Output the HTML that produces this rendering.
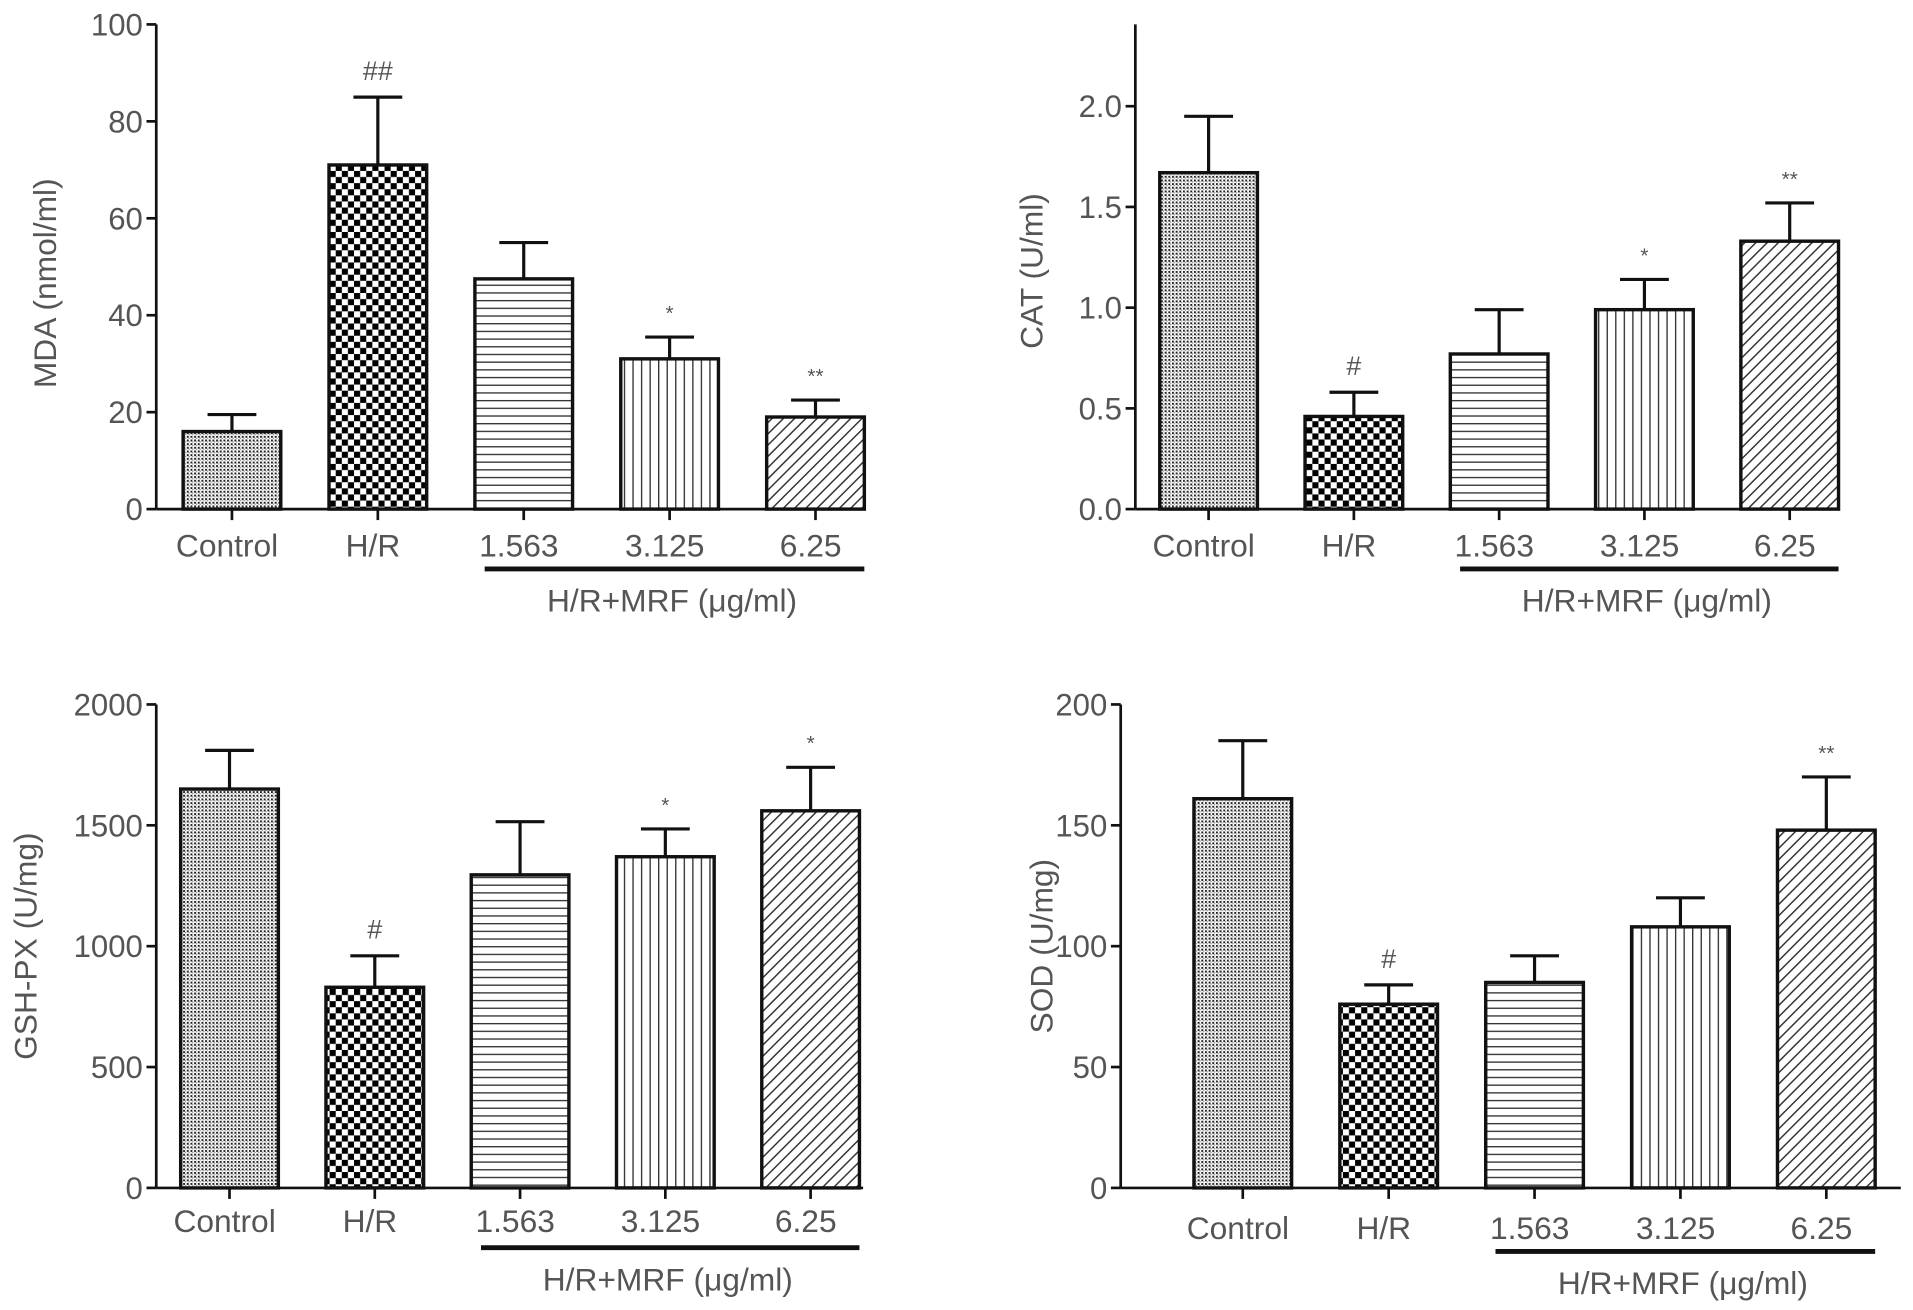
<!DOCTYPE html>
<html><head><meta charset="utf-8"><style>
html,body{margin:0;padding:0;background:#fff;}
svg{display:block;}
text{font-family:"Liberation Sans",sans-serif;fill:#555;}
</style></head><body>
<svg id="fig" width="1913" height="1310" viewBox="0 0 1567 1073" preserveAspectRatio="none" xmlns="http://www.w3.org/2000/svg">
<defs>
<pattern id="pDots" width="3" height="3" patternUnits="userSpaceOnUse"><rect width="3" height="3" fill="#fff"/><rect width="1.6" height="1.6" fill="#222"/><rect x="1.5" y="1.5" width="1" height="1" fill="#888"/></pattern>
<pattern id="pCheck" width="10" height="10" patternUnits="userSpaceOnUse"><rect width="10" height="10" fill="#fff"/><rect width="5" height="5" fill="#000"/><rect x="5" y="5" width="5" height="5" fill="#000"/></pattern>
<pattern id="pH" width="8" height="6.3" patternUnits="userSpaceOnUse"><rect width="8" height="6.3" fill="#fff"/><rect y="0" width="8" height="1.1" fill="#333"/></pattern>
<pattern id="pV" width="7" height="8" patternUnits="userSpaceOnUse"><rect width="7" height="8" fill="#fff"/><rect x="0" width="1.1" height="8" fill="#333"/></pattern>
<pattern id="pD" width="6.5" height="6.5" patternUnits="userSpaceOnUse" patternTransform="rotate(45)"><rect width="6.5" height="6.5" fill="#fff"/><rect width="1.2" height="6.5" fill="#333"/></pattern>
</defs>
</svg>
<script>
// Shared categories
var categories = ["Control", "H/R", "1.563", "3.125", "6.25"];
var groupLabel = "H/R+MRF (\u03bcg/ml)";
// MDA panel
var mdaValues = [16, 71, 47.5, 31, 19];
var mdaErrors = [3.5, 14, 7.5, 4.5, 3.5];
var mdaMarks = ["", "##", "", "*", "**"];
var mdaTicks = [0, 20, 40, 60, 80, 100];
// CAT panel
var catValues = [1.67, 0.46, 0.77, 0.99, 1.33];
var catErrors = [0.28, 0.12, 0.22, 0.15, 0.19];
var catMarks = ["", "#", "", "*", "**"];
var catTicks = [0.0, 0.5, 1.0, 1.5, 2.0];
var catTickLabels = ["0.0", "0.5", "1.0", "1.5", "2.0"];
// GSH-PX panel
var gshValues = [1650, 830, 1295, 1370, 1560];
var gshErrors = [160, 130, 220, 115, 180];
var gshMarks = ["", "#", "", "*", "*"];
var gshTicks = [0, 500, 1000, 1500, 2000];
// SOD panel
var sodValues = [161, 76, 85, 108, 148];
var sodErrors = [24, 8, 11, 12, 22];
var sodMarks = ["", "#", "", "", "**"];
var sodTicks = [0, 50, 100, 150, 200];

var fills = ["url(#pDots)", "url(#pCheck)", "url(#pH)", "url(#pV)", "url(#pD)"];
var NS = "http://www.w3.org/2000/svg";
var svg = document.getElementById("fig");
function mk(tag, attrs, parent, txt) {
  var e = document.createElementNS(NS, tag);
  for (var k in attrs) e.setAttribute(k, attrs[k]);
  if (txt !== undefined) e.textContent = txt;
  (parent || svg).appendChild(e);
  return e;
}
function panel(o) {
  var g = mk("g", {});
  
  
  var y = function (v) { return o.y0 - (v - 0) / (o.yMax - 0) * (o.y0 - o.yTop); };
  var x = function (i) { return o.xFirst + i * o.step; };
  var ax = mk("g", {}, g);
  
  
  mk("line", {x1: o.ax, x2: o.ax, y1: o.axisTop, y2: o.y0, stroke: "#111", "stroke-width": 2.2}, ax);
  o.ticks.forEach(function (t, i) {
    mk("line", {x1: o.ax - 8, x2: o.ax, y1: y(t), y2: y(t), stroke: "#111", "stroke-width": 2.2}, ax);
    var tl = mk("text", {x: o.ax - 11, y: y(t) + 9, "text-anchor": "end", "font-size": 25.5}, ax, o.tickLabels ? o.tickLabels[i] : String(t));
    
    
  });
  var yt = mk("text", {transform: "translate(" + o.titleX + "," + o.titleY + ") rotate(-90)", "text-anchor": "middle", "font-size": 26}, g, o.title);
  
  
  var xa = mk("g", {}, g);
  
  
  mk("line", {x1: o.ax, x2: o.xEnd, y1: o.y0, y2: o.y0, stroke: "#111", "stroke-width": 2.2}, xa);
  o.values.forEach(function (v, i) {
    var cx = x(i), bw = 80;
    mk("line", {x1: cx, x2: cx, y1: o.y0, y2: o.y0 + 9, stroke: "#111", "stroke-width": 2.2}, xa);
    var cl = mk("text", {x: cx - 4, y: o.labelY, "text-anchor": "middle", "font-size": 26}, xa, categories[i]);
    
    
    var top = y(v), et = y(v + o.errors[i]);
    var eb = mk("g", {}, g);
    
    
    mk("line", {x1: cx, x2: cx, y1: top, y2: et, stroke: "#111", "stroke-width": 2.6}, eb);
    mk("line", {x1: cx - 20, x2: cx + 20, y1: et, y2: et, stroke: "#111", "stroke-width": 2.6}, eb);
    var b = mk("rect", {x: cx - bw / 2, y: top, width: bw, height: o.y0 - top, fill: fills[i], stroke: "#111", "stroke-width": 2.8}, g);
    
    
    if (o.marks[i]) {
      var m = mk("text", {x: cx, y: et - 14, "text-anchor": "middle", "font-size": o.marks[i].indexOf("#") >= 0 ? 22 : 17}, g, o.marks[i]);
      
      
    }
  });
  var ul = mk("line", {x1: x(2) - 32, x2: x(4) + 40, y1: o.ulY, y2: o.ulY, stroke: "#111", "stroke-width": 4}, g);
  
  
  var gl = mk("text", {x: x(3) + 2, y: o.ulY + 35, "text-anchor": "middle", "font-size": 26}, g, groupLabel);
  
  
}
panel({name: "mda", values: mdaValues, errors: mdaErrors, marks: mdaMarks, ticks: mdaTicks, yMax: 100,
  ax: 128, y0: 417, yTop: 20, axisTop: 20, xFirst: 190, step: 119.5, xEnd: 709, labelY: 456, ulY: 466,
  title: "MDA (nmol/ml)", titleX: 46, titleY: 232});
panel({name: "cat", values: catValues, errors: catErrors, marks: catMarks, ticks: catTicks, tickLabels: catTickLabels, yMax: 2.0,
  ax: 930, y0: 417, yTop: 87, axisTop: 20, xFirst: 990, step: 119, xEnd: 1507, labelY: 456, ulY: 466,
  title: "CAT (U/ml)", titleX: 854, titleY: 222});
panel({name: "gsh-px", values: gshValues, errors: gshErrors, marks: gshMarks, ticks: gshTicks, yMax: 2000,
  ax: 128, y0: 973, yTop: 577, axisTop: 577, xFirst: 188, step: 119, xEnd: 707, labelY: 1009, ulY: 1022,
  title: "GSH-PX (U/mg)", titleX: 30, titleY: 775});
panel({name: "sod", values: sodValues, errors: sodErrors, marks: sodMarks, ticks: sodTicks, yMax: 200,
  ax: 918, y0: 973, yTop: 577, axisTop: 577, xFirst: 1018, step: 119.5, xEnd: 1557, labelY: 1015, ulY: 1025,
  title: "SOD (U/mg)", titleX: 862, titleY: 775});
</script>
</body></html>
